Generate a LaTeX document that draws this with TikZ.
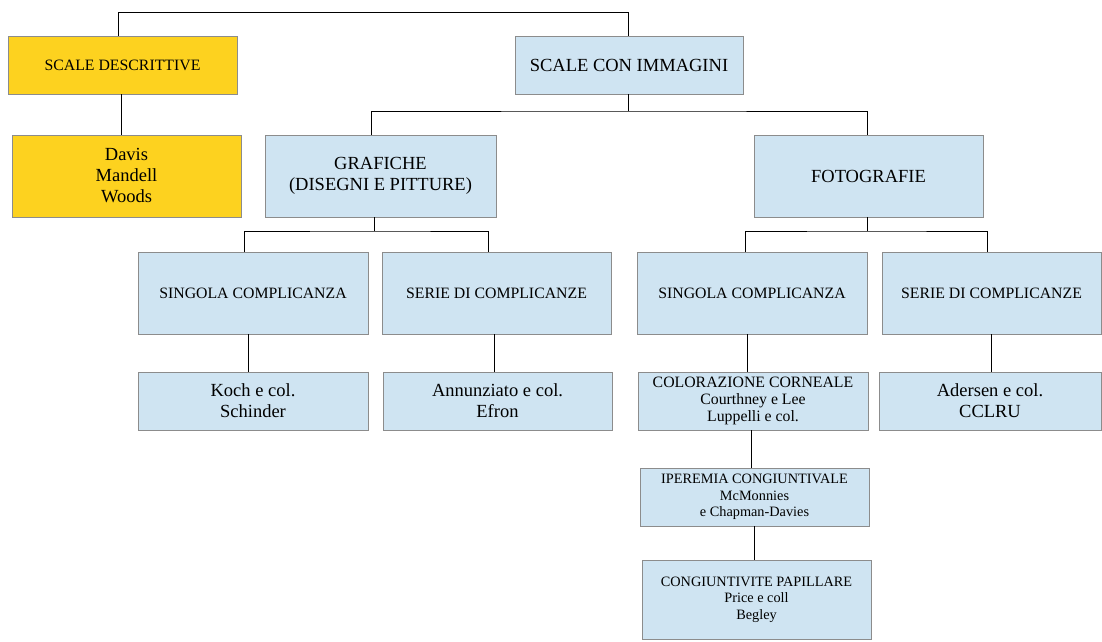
\documentclass[tikz,border=0pt]{standalone}
\usepackage{fontspec}
\setmainfont{Liberation Serif}
\definecolor{boxyellow}{RGB}{253,210,31}
\definecolor{boxblue}{RGB}{207,228,242}
\definecolor{boxline}{RGB}{140,140,140}
\tikzset{
  box/.style={draw=boxline, line width=0.9pt, inner sep=0pt, outer sep=0pt, align=center, text=black},
  ybox/.style={box, fill=boxyellow},
  bbox/.style={box, fill=boxblue},
  fbig/.style={font=\fontsize{18.5}{21}\selectfont},
  fmid/.style={font=\fontsize{15.8}{17.3}\selectfont},
  fsmall/.style={font=\fontsize{14.3}{16.5}\selectfont},
  conn/.style={draw=black, line width=0.8pt}
}
\begin{document}
\begin{tikzpicture}[x=1pt,y=-1pt]
\useasboundingbox (0,0) rectangle (1102,641);
\fill[white] (0,0) rectangle (1102,641);
% nodes
\node[ybox,fmid, minimum width=229, minimum height=58] (sd) at (122.5,65) {SCALE DESCRITTIVE};
\node[ybox,fbig, minimum width=229, minimum height=82] (dv) at (126.5,176) {Davis\\Mandell\\Woods};
\node[bbox,fbig, minimum width=228, minimum height=58] (sci) at (629,65) {SCALE CON IMMAGINI};
\node[bbox,fbig, minimum width=231, minimum height=82] (gr) at (380.5,176) {GRAFICHE\\(DISEGNI E PITTURE)};
\node[bbox,fbig, minimum width=229, minimum height=82] (fo) at (868.5,176) {FOTOGRAFIE};
\node[bbox,fmid, minimum width=230, minimum height=82] (sc1) at (253,293) {SINGOLA COMPLICANZA};
\node[bbox,fmid, minimum width=229, minimum height=82] (se1) at (496.5,293) {SERIE DI COMPLICANZE};
\node[bbox,fmid, minimum width=230, minimum height=82] (sc2) at (752,293) {SINGOLA COMPLICANZA};
\node[bbox,fmid, minimum width=219, minimum height=82] (se2) at (991.5,293) {SERIE DI COMPLICANZE};
\node[bbox,fbig, minimum width=230, minimum height=58] (ko) at (253,401) {Koch e col.\\Schinder};
\node[bbox,fbig, minimum width=229, minimum height=58] (an) at (497.5,401) {Annunziato e col.\\Efron};
\node[bbox,fmid, minimum width=230, minimum height=58] (co) at (753,401) {COLORAZIONE CORNEALE\\Courthney e Lee\\Luppelli e col.};
\node[bbox,fbig, minimum width=222, minimum height=58] (ad) at (990,401) {Adersen e col.\\CCLRU};
\node[bbox,fsmall, minimum width=229, minimum height=58] (ip) at (754.5,497) {IPEREMIA CONGIUNTIVALE\\McMonnies\\e Chapman-Davies};
\node[bbox,fsmall, minimum width=229, minimum height=79] (cp) at (756.5,599.5) {CONGIUNTIVITE PAPILLARE\\Price e coll\\Begley};
% connectors
\draw[conn] ([xshift=-4.5pt]sd.north) -- ++(0,-24) -| ([xshift=-1pt]sci.north);
\draw[conn] ([xshift=-1.5pt]sd.south) -- ([xshift=-5.5pt]dv.north);
\draw[conn] ([xshift=-1pt]sci.south) -- ++(0,17) coordinate (j1);
\draw[conn] ([xshift=-9.5pt]gr.north) |- (j1) -| ([xshift=-1.5pt]fo.north);
\draw[conn] ([xshift=-6.5pt]gr.south) -- ++(0,14) coordinate (j2);
\draw[conn] ([xshift=-9pt]sc1.north) |- (j2) -| ([xshift=-8.5pt]se1.north);
\draw[conn] ([xshift=-1.5pt]fo.south) -- ++(0,14) coordinate (j3);
\draw[conn] ([xshift=-7pt]sc2.north) |- (j3) -| ([xshift=-4.5pt]se2.north);
\draw[conn] ([xshift=-5pt]sc1.south) -- ([xshift=-5pt]sc1.south |- ko.north);
\draw[conn] ([xshift=-2.5pt]se1.south) -- ([xshift=-2.5pt]se1.south |- an.north);
\draw[conn] ([xshift=-5pt]sc2.south) -- ([xshift=-5pt]sc2.south |- co.north);
\draw[conn] (se2.south) -- (se2.south |- ad.north);
\draw[conn] ([xshift=-2pt]co.south) -- ([xshift=-2pt]co.south |- ip.north);
\draw[conn] (ip.south) -- (ip.south |- cp.north);
\end{tikzpicture}
\end{document}
